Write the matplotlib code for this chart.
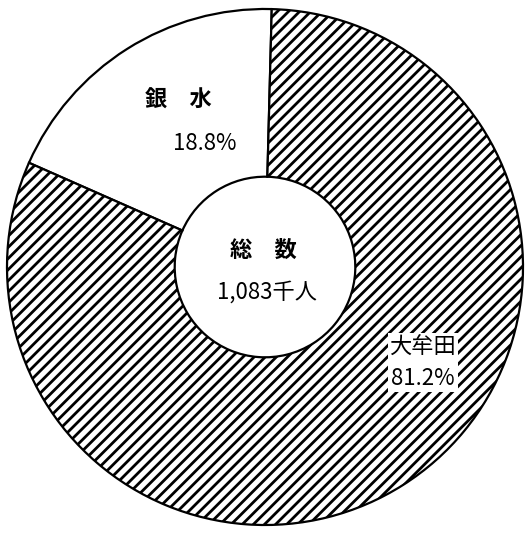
import matplotlib
matplotlib.use("Agg")
import matplotlib.pyplot as plt

plt.rcParams['font.family'] = ['Noto Sans CJK JP', 'DejaVu Sans']
plt.rcParams['hatch.linewidth'] = 2.0

labels = ["銀　水", "大牟田"]
shares = [18.8, 81.2]
total_label = "総　数"
total_value = "1,083千人"

fig = plt.figure(figsize=(5.29, 5.34), dpi=100)
ax = fig.add_axes([0, 0, 1, 1])
R = 258.0
cx, cy = 265.0, 267.0

wedges, _ = ax.pie(shares, startangle=88.5, counterclock=True, radius=1.0,
                   colors=['white', 'white'],
                   wedgeprops=dict(width=0.65, edgecolor='black', linewidth=1.6))
wedges[1].set_hatch('///')
ax.set_xlim(-cx / R, (529 - cx) / R)
ax.set_ylim(-(534 - cy) / R, cy / R)
ax.set_aspect('auto')
ax.axis('off')

fs = 16
ax.text(-0.337, 0.647, labels[0], ha='center', va='center', fontsize=fs, fontweight='bold')
ax.text(-0.233, 0.477, f"{shares[0]}%", ha='center', va='center', fontsize=fs)
ax.text(-0.008, 0.066, total_label, ha='center', va='center', fontsize=fs, fontweight='bold')
ax.text(0.008, -0.097, total_value, ha='center', va='center', fontsize=fs)
ax.text(0.612, -0.37, f"{labels[1]}\n{shares[1]}%", ha='center', va='center',
        fontsize=fs, linespacing=1.45,
        bbox=dict(facecolor='white', edgecolor='none', pad=1.5))

fig.savefig('out.png', dpi=100)
